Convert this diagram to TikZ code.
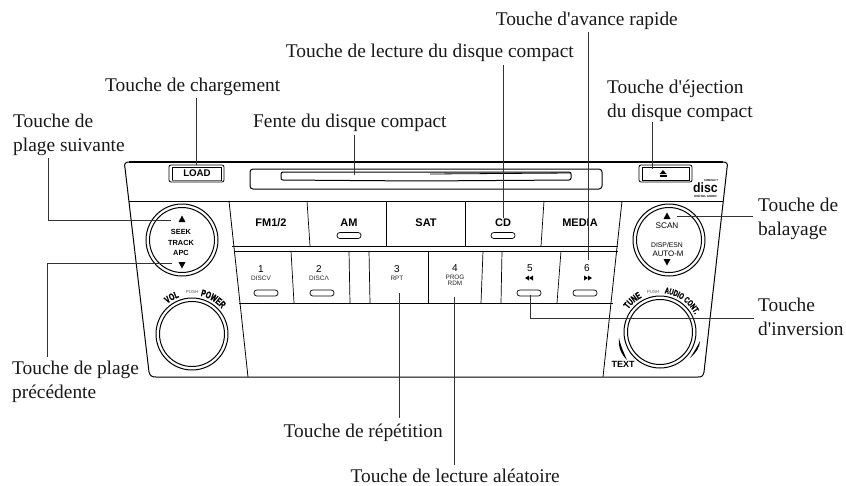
\documentclass[tikz,border=0pt]{standalone}
\usepackage{fontspec}
\setmainfont{Liberation Serif}[Ligatures=TeXOff]
\setsansfont{Liberation Sans}
\newfontfamily\condb[FakeStretch=0.68,FakeBold=1.2]{Liberation Sans Bold}
\usetikzlibrary{decorations.text}
\newcommand{\uptri}[2]{\fill (#1-3.5,#2+3)--(#1+3.5,#2+3)--(#1,#2-3.5)--cycle;}
\newcommand{\dntri}[2]{\fill (#1-3.5,#2-3)--(#1+3.5,#2-3)--(#1,#2+3.5)--cycle;}
\newcommand{\lefttri}[2]{\fill (#1+3,#2-2.5)--(#1+3,#2+2.5)--(#1-1,#2)--cycle;\fill (#1-1,#2-2.5)--(#1-1,#2+2.5)--(#1-5,#2)--cycle;}
\newcommand{\righttri}[2]{\fill (#1-3,#2-2.5)--(#1-3,#2+2.5)--(#1+1,#2)--cycle;\fill (#1+1,#2-2.5)--(#1+1,#2+2.5)--(#1+5,#2)--cycle;}
\tikzset{
  x=1pt,y=-1pt,
  lab/.style={font=\fontsize{19.4}{23.5}\selectfont,inner sep=0pt,align=left,text=black!90},
  leader/.style={draw=black!80,line width=0.65pt},
  panel/.style={draw=black,line width=0.8pt},
  btn/.style={font=\sffamily\bfseries\fontsize{11}{12}\selectfont,inner sep=0pt},
  num/.style={font=\sffamily\fontsize{10}{10}\selectfont,inner sep=0pt},
  tiny/.style={font=\sffamily\fontsize{6.4}{6.8}\selectfont,inner sep=0pt,text=black!85},
  pushlab/.style={font=\sffamily\fontsize{4.5}{5}\selectfont,inner sep=0pt,text=black!65},
  knobb/.style={font=\sffamily\bfseries\fontsize{7.4}{8}\selectfont,inner sep=0pt},
  knobn/.style={font=\sffamily\fontsize{#1}{8}\selectfont,inner sep=0pt},
  ledslot/.style={draw=black,line width=0.7pt,rounded corners=2.8pt,minimum width=24pt,minimum height=6pt,inner sep=0pt},
  knobo/.style={draw=black,line width=1pt},
  curved/.style={decorate,decoration={text along path,text align=center,text={|\condb\fontsize{9.8}{10}\selectfont|#1}}},
  curvedsmall/.style={decorate,decoration={text along path,text align=center,text={|\condb\fontsize{8.6}{9}\selectfont|#1}}},
}
\begin{document}
\begin{tikzpicture}
\fill[white] (0,0) rectangle (846,485);
\useasboundingbox (0,0) rectangle (846,485);
% panel
\draw[panel,line width=1pt] (129,162) -- (723,162) .. controls (727,162) and (728,164) .. (727,168) -- (704,372) .. controls (703,376) and (702,377) .. (698,377) -- (156,377) .. controls (152,377) and (150,376) .. (149,372) -- (125,168) .. controls (124,164) and (125,162) .. (129,162) -- cycle;
\draw[panel,line width=1.3pt] (129,162) -- (723,162);
\draw[panel] (129,201) -- (723,201);
\draw[panel] (229,201) -- (248,377);
\draw[panel] (622,201) -- (603,377);
\draw[panel,line width=0.9pt] (232,246) -- (618,246);
\draw[panel,line width=0.9pt] (234,251) -- (618,251);
\draw[panel,line width=0.9pt] (239,303) -- (613,303);
\foreach \a/\b/\c/\d in {307/201/310/246,386/201/386/246,465/201/465/246,544/201/541/246,291/251/294/303,349/251/350/303,369/251/370/303,428/251/428/303,483/251/481/303,502/251/501/303,561/251/557/303}
  \draw[panel,line width=0.7pt] (\a,\b) -- (\c,\d);
% slot
\draw[panel,line width=1pt,rounded corners=3pt] (250,169) rectangle (602,189);
\draw[panel,line width=1pt,rounded corners=2pt] (281,172) -- (571,172) -- (571,180) -- (420,181) -- (281,180) -- cycle;
\draw[black,line width=0.8pt] (430,174) -- (571,173);
% buttons
\draw[panel,line width=0.8pt,rounded corners=2pt] (169,165) rectangle (224,182);
\draw[panel,line width=0.8pt] (172,167) rectangle (221,180);
\draw[black!55,line width=1.2pt] (172,180.5) -- (221,180.5);
\node[btn,font=\sffamily\bfseries\fontsize{9.7}{10}\selectfont] (load) at (197,173.5) {LOAD};
\draw[panel,line width=0.8pt,rounded corners=2pt] (639,165) rectangle (692,182);
\draw[panel,line width=0.8pt] (642,167) rectangle (689,180);
\fill (659.5,174) -- (666.5,174) -- (663,170) -- cycle;
\fill (659.5,175) rectangle (666.5,177);
% disc logo
\node[inner sep=0pt,font=\sffamily\bfseries\fontsize{15}{15}\selectfont] (disc) at (705.5,188) {\scalebox{0.82}[0.9]{disc}};
\node[inner sep=0pt,font=\sffamily\bfseries\fontsize{2.8}{3}\selectfont] (cmp) at (711,180.5) {COMPACT};
\node[inner sep=0pt,font=\sffamily\bfseries\fontsize{3}{3}\selectfont] (dig) at (705.5,196.5) {DIGITAL AUDIO};
% top row
\node[btn] (fm) at (271,223) {FM1/2};
\node[btn] (am) at (349,223) {AM};
\node[btn] (sat) at (426,223) {SAT};
\node[btn] (cd) at (503,223) {CD};
\node[btn] (media) at (580,223) {MEDIA};
\node[ledslot] (ledam) at (349,235.5) {};
\node[ledslot] (ledcd) at (503,235.5) {};
% bottom row
\node[num] (n1) at (261,269) {1};
\node[tiny] (t1) at (261,278) {DISCV};
\node[num] (n2) at (319,269) {2};
\node[tiny] (t2) at (319,278) {DISCΛ};
\node[num] (n3) at (397,269) {3};
\node[tiny] (t3) at (397,278) {RPT};
\node[num] (n4) at (455,268) {4};
\node[tiny,align=center] (t4) at (455,280) {PROG\\[-1pt]RDM};
\node[num] (n5) at (530,268) {5};
\lefttri{530}{278}
\node[num] (n6) at (587,268) {6};
\righttri{587}{278}
\node[ledslot] (led1) at (266,293) {};
\node[ledslot] (led2) at (322,293) {};
\node[ledslot] (led5) at (529,293) {};
\node[ledslot] (led6) at (585,293) {};
% knobs
\foreach \cx/\cy in {182/240,192/334,669/240,660/332}{
  \draw[knobo] (\cx,\cy) circle[radius=36];
  \draw[knobo] (\cx,\cy) circle[radius=32.5];
}
\uptri{182}{219}
\node[knobb] (seek) at (181,232) {SEEK};
\node[knobb] (track) at (181,242.5) {TRACK};
\node[knobb] (apc) at (181,253) {APC};
\dntri{182}{265}
\uptri{667}{216}
\node[knobn=8.2] (scan) at (667,226) {SCAN};
\node[knobn=6.8] (dispn) at (667,245) {DISP/ESN};
\node[knobn=7.9] (auto) at (668,254) {AUTO-M};
\dntri{667}{262}
\begin{scope}[shift={(192,334)},y=1pt]
  \path[curved=VOL] (160:39) arc (160:78:39);
  \path[curved=POWER] (100:39) arc (100:18:39);
\end{scope}
\node[pushlab] (push1) at (192,292) {PUSH};
\begin{scope}[shift={(660,332)},y=1pt]
  \path[curved=TUNE] (175:39) arc (175:87:39);
  \path[curvedsmall={AUDIO CONT.}] (110:39) arc (110:0:39);
\end{scope}
\fill (619,338) .. controls (618,347) and (621,354) .. (627,360) .. controls (624,353) and (621,347) .. cycle;
\fill (700,341) .. controls (700,347) and (696,353) .. (690,358) .. controls (694,352) and (697,347) .. cycle;
\node[pushlab] (push2) at (653,292) {PUSH};
\node[knobb,font=\sffamily\bfseries\fontsize{9}{9}\selectfont] (textk) at (623,364) {TEXT};
% labels
\node[lab,anchor=base east] (lblAvance) at (678,25) {Touche d'avance rapide};
\node[lab,anchor=base east] (lblLecture) at (574,57) {Touche de lecture du disque compact};
\node[lab,anchor=base west] (lblCharge) at (105,91) {Touche de chargement};
\node[lab,anchor=base west] (lblFente) at (253,127) {Fente du disque compact};
\node[lab,anchor=base west] (lblEject) at (607,117) {Touche d'éjection\\du disque compact};
\node[lab,anchor=base west] (lblSuiv) at (13,151) {Touche de\\plage suivante};
\node[lab,anchor=base west] (lblPrec) at (12,398) {Touche de plage\\précédente};
\node[lab,anchor=base west] (lblBal) at (758,235) {Touche de\\balayage};
\node[lab,anchor=base west] (lblInv) at (758,335) {Touche\\d'inversion};
\node[lab,anchor=base east] (lblRep) at (443,437) {Touche de répétition};
\node[lab,anchor=base east] (lblAlea) at (560,482) {Touche de lecture aléatoire};
% leader ends
\coordinate (sLoad) at (196,98);   \coordinate (eLoad) at (196,165);
\coordinate (sFente) at (354,135); \coordinate (eFente) at (354,175);
\coordinate (sCD) at (503,65);     \coordinate (eCD) at (503,218);
\coordinate (sAv) at (588,32);     \coordinate (eAv) at (588,260);
\coordinate (sEj) at (652,122);    \coordinate (eEj) at (652,169);
\coordinate (sScan) at (753,216);  \coordinate (eScan) at (677,216);
\coordinate (sInv) at (754,318.5); \coordinate (cInv) at (530,318.5); \coordinate (eInv) at (530,295);
\coordinate (sSuiv) at (48,158);   \coordinate (cSuiv) at (48,220);   \coordinate (eSuiv) at (171,220);
\coordinate (sPrec) at (47,357);   \coordinate (cPrec) at (47,263);   \coordinate (ePrec) at (172,263);
\coordinate (sRep) at (399,418);   \coordinate (eRep) at (399,293);
\coordinate (sAlea) at (454,465);  \coordinate (eAlea) at (454,297);
\draw[leader] (sLoad) -- (eLoad);
\draw[leader] (sFente) -- (eFente);
\draw[leader] (sCD) -- (eCD);
\draw[leader] (sAv) -- (eAv);
\draw[leader] (sEj) -- (eEj);
\draw[leader] (sScan) -- (eScan);
\draw[leader] (sInv) -- (cInv) -- (eInv);
\draw[leader] (sSuiv) -- (cSuiv) -- (eSuiv);
\draw[leader] (sPrec) -- (cPrec) -- (ePrec);
\draw[leader] (sRep) -- (eRep);
\draw[leader] (sAlea) -- (eAlea);
\end{tikzpicture}
\end{document}
